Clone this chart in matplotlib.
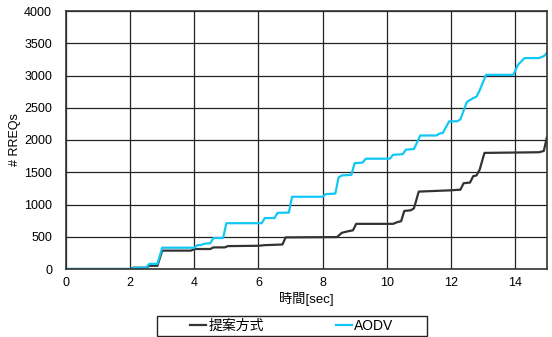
import matplotlib
matplotlib.use("Agg")
import matplotlib.pyplot as plt
from matplotlib.patches import Rectangle

# cumulative RREQ counts over time
t_prop = [0, 2.0, 2.1, 2.5, 2.6, 2.85, 3.0, 3.9, 4.0, 4.5, 4.6, 4.95, 5.05, 6.0, 6.2,
          6.5, 6.75, 6.85, 8.45, 8.6, 8.75, 8.95, 9.05, 10.2, 10.35, 10.45, 10.55,
          10.75, 10.85, 11.0, 12.0, 12.3, 12.4, 12.6, 12.7, 12.8, 12.9, 13.05, 14.75,
          14.9, 15.0]
v_prop = [0, 0, 20, 20, 50, 50, 285, 285, 310, 310, 335, 335, 355, 360, 370,
          375, 380, 490, 495, 560, 580, 600, 700, 700, 730, 740, 900,
          910, 940, 1200, 1220, 1230, 1330, 1340, 1440, 1450, 1540, 1800, 1810,
          1830, 2050]

t_aodv = [0, 2.0, 2.15, 2.5, 2.6, 2.85, 3.0, 4.0, 4.1, 4.2, 4.3, 4.5, 4.6, 4.9, 5.0,
          6.1, 6.2, 6.5, 6.6, 6.95, 7.05, 8.0, 8.1, 8.4, 8.5, 8.6, 8.9, 9.0, 9.25,
          9.35, 10.1, 10.2, 10.5, 10.6, 10.85, 11.05, 11.55, 11.65, 11.75, 11.95,
          12.2, 12.3, 12.5, 12.7, 12.8, 12.9, 13.1, 13.95, 14.1, 14.3, 14.75, 14.9, 15.0]
v_aodv = [0, 0, 20, 20, 80, 80, 330, 330, 370, 370, 390, 400, 480, 480, 710,
          710, 790, 790, 870, 875, 1120, 1120, 1160, 1170, 1420, 1450, 1460, 1640, 1650,
          1710, 1710, 1770, 1780, 1850, 1860, 2070, 2070, 2100, 2110, 2290,
          2290, 2320, 2590, 2650, 2670, 2770, 3010, 3010, 3170, 3270, 3270, 3300, 3350]

labels = ['提案方式', 'AODV']
xticks = [0, 2, 4, 6, 8, 10, 12, 14]
yticks = [0, 500, 1000, 1500, 2000, 2500, 3000, 3500, 4000]

plt.rcParams['font.family'] = ['Liberation Sans', 'Noto Sans CJK JP', 'DejaVu Sans']

fig = plt.figure(figsize=(5.52, 3.37), dpi=100)
ax = fig.add_axes([66/552, 1-269/337, 481/552, 258/337])

l1, = ax.plot(t_prop, v_prop, color='#333333', lw=1.6, label=labels[0])
l2, = ax.plot(t_aodv, v_aodv, color='#11C8F5', lw=1.6, label=labels[1])

ax.set_xlim(0, 15)
ax.set_ylim(0, 4000)
ax.set_xticks(xticks)
ax.set_yticks(yticks)
ax.tick_params(length=0, labelsize=9)
ax.tick_params(axis='y', pad=10)
ax.tick_params(axis='x', pad=6)
ax.grid(True, color='#222222', lw=0.9)
ax.set_axisbelow(True)
for s in ax.spines.values():
    s.set_color('#333333')
    s.set_linewidth(1.2)

ax.set_xlabel('時間[sec]', fontsize=9.5, labelpad=2)
ax.set_ylabel('# RREQs', fontsize=9, labelpad=2)

# legend box under the plot
fig.patches.append(Rectangle((157/552, 1-336/337), 270/552, 20/337,
                             transform=fig.transFigure, fill=False,
                             edgecolor='#222222', lw=1.0))
fig.legend(handles=[l1, l2], loc='center', bbox_to_anchor=(292/552, 1-326/337),
           ncol=2, frameon=False, fontsize=10, handlelength=1.1,
           handletextpad=0.2, columnspacing=5.2, borderpad=0)

fig.savefig('out.png', dpi=100)
